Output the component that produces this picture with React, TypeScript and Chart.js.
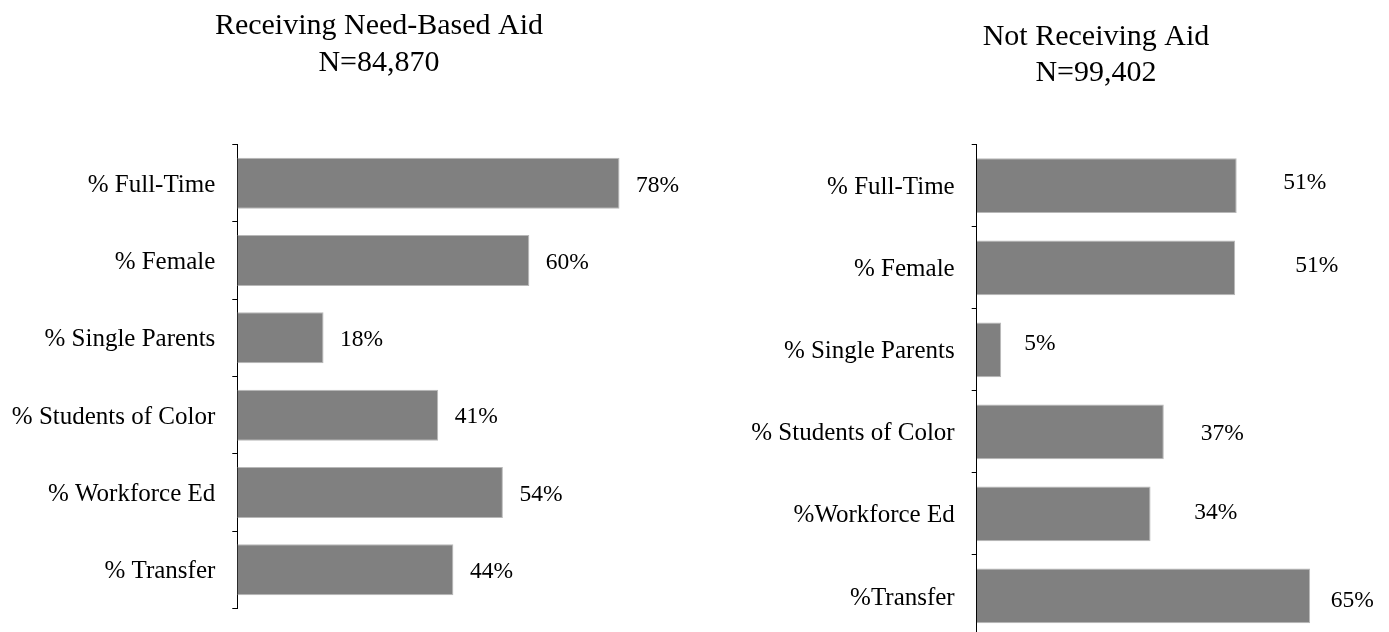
import React, { useEffect, useRef } from "react";
import { Chart, registerables } from "chart.js";

Chart.register(...registerables);

// ---------- data ----------
const leftTitle = ["Receiving Need-Based Aid", "N=84,870"];
const rightTitle = ["Not Receiving Aid", "N=99,402"];

const leftCategories = [
  "% Full-Time",
  "% Female",
  "% Single Parents",
  "% Students of Color",
  "% Workforce Ed",
  "% Transfer",
];
const rightCategories = [
  "% Full-Time",
  "% Female",
  "% Single Parents",
  "% Students of Color",
  "%Workforce Ed",
  "%Transfer",
];

const leftValues = [78.0, 59.6, 17.6, 41.0, 54.2, 44.1];
const rightValues = [51.0, 50.7, 4.8, 36.7, 34.1, 65.4];

// label nudges (styling only)
const leftLabelDx = [16.5, 16.5, 16.5, 16.5, 16.5, 16.5];
const leftLabelDy = [2, 2, 2, 2, 2, 2];
const rightLabelDx = [46.6, 60, 23, 37, 43.6, 20.7];
const rightLabelDy = [-2.4, -1.9, -5.6, 2, -1.2, 4.5];

const FONT = "'Liberation Serif', 'Times New Roman', Times, serif";

const valueLabelPlugin = {
  id: "valueLabels",
  afterDatasetsDraw(chart: any, _args: any, opts: any) {
    const { ctx } = chart;
    const meta = chart.getDatasetMeta(0);
    const data = chart.data.datasets[0].data as number[];
    ctx.save();
    ctx.font = `23.5px ${FONT}`;
    ctx.fillStyle = "#000";
    ctx.textAlign = "left";
    ctx.textBaseline = "middle";
    meta.data.forEach((bar: any, i: number) => {
      ctx.fillText(Math.round(data[i]) + "%", bar.x + opts.dx[i], bar.y + opts.dy[i]);
    });
    ctx.restore();
  },
};

type Params = {
  labels: string[];
  values: number[];
  title: string[];
  titleLineHeight: number;
  titlePadTop: number;
  titlePadBottom: number;
  padRight: number;
  padBottom: number;
  axisWidth: number;
  xMax: number;
  barPct: number;
  dx: number[];
  dy: number[];
};

function makeConfig(p: Params): any {
  return {
    type: "bar",
    data: {
      labels: p.labels,
      datasets: [
        {
          data: p.values,
          backgroundColor: "#808080",
          borderColor: "#b8b8b8",
          borderWidth: 1,
          categoryPercentage: 1,
          barPercentage: p.barPct,
        },
      ],
    },
    plugins: [valueLabelPlugin],
    options: {
      indexAxis: "y",
      responsive: false,
      animation: false,
      layout: {
        padding: { top: 0, left: 0, right: p.padRight, bottom: p.padBottom },
      },
      plugins: {
        legend: { display: false },
        tooltip: { enabled: false },
        title: {
          display: true,
          text: p.title,
          color: "#000",
          font: { family: FONT, size: 30, weight: "normal", lineHeight: p.titleLineHeight },
          padding: { top: p.titlePadTop, bottom: p.titlePadBottom },
        },
        valueLabels: { dx: p.dx, dy: p.dy },
      },
      scales: {
        x: { display: false, min: 0, max: p.xMax },
        y: {
          type: "category",
          offset: true,
          afterFit: (scale: any) => {
            scale.width = p.axisWidth;
            scale.paddingTop = 0;
            scale.paddingBottom = 0;
          },
          grid: {
            offset: true,
            drawOnChartArea: false,
            drawTicks: true,
            tickLength: 5,
            color: "#000",
            lineWidth: 1,
          },
          border: { display: true, color: "#000", width: 1 },
          ticks: {
            color: "#000",
            padding: 17,
            labelOffset: 2,
            font: { family: FONT, size: 25 },
          },
        },
      },
    },
  };
}

function BarPanel({ params, left, width, height }: { params: Params; left: number; width: number; height: number }) {
  const ref = useRef<HTMLCanvasElement | null>(null);
  useEffect(() => {
    if (!ref.current) return;
    const chart = new Chart(ref.current, makeConfig(params));
    return () => chart.destroy();
  }, []);
  return (
    <canvas
      ref={ref}
      width={width}
      height={height}
      style={{ position: "absolute", left, top: 0, width, height, display: "block" }}
    />
  );
}

export default function App() {
  // left panel: canvas x 0..770, title centred at 379 -> area right at 758
  const leftParams: Params = {
    labels: leftCategories,
    values: leftValues,
    title: leftTitle,
    titleLineHeight: 37 / 30,
    titlePadTop: 7.5,
    titlePadBottom: 63.2,
    padRight: 770 - 758,
    padBottom: 632 - 608.3,
    axisWidth: 237.3,
    xMax: (758 - 237.3) / 4.9,
    barPct: 0.66,
    dx: leftLabelDx,
    dy: leftLabelDy,
  };
  // right panel: canvas x 720..1480, title centred at 1096 -> area right at 1472
  const rightParams: Params = {
    labels: rightCategories,
    values: rightValues,
    title: rightTitle,
    titleLineHeight: 35.7 / 30,
    titlePadTop: 19.45,
    titlePadBottom: 53.85,
    padRight: 760 - 752,
    padBottom: 20,
    axisWidth: 976.7 - 720,
    xMax: (1472 - 976.7) / 5.098,
    barPct: 0.667,
    dx: rightLabelDx,
    dy: rightLabelDy,
  };
  return (
    <div
      style={{
        position: "fixed",
        left: 0,
        top: 0,
        width: 1389,
        height: 632,
        overflow: "hidden",
        background: "#fff",
      }}
    >
      <BarPanel params={leftParams} left={0} width={770} height={632} />
      <BarPanel params={rightParams} left={720} width={760} height={657} />
    </div>
  );
}
